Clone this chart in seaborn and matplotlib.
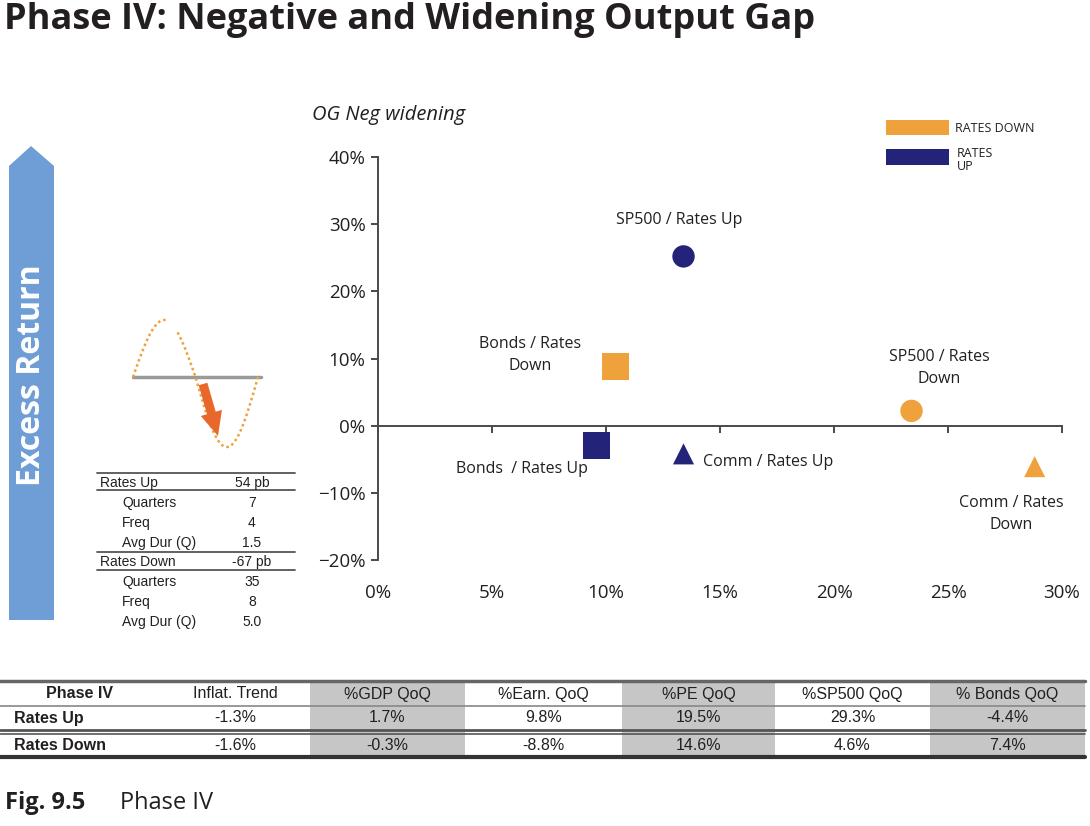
import numpy as np
import pandas as pd
import matplotlib
matplotlib.use('Agg')
import matplotlib.pyplot as plt
import seaborn as sns
from matplotlib.patches import Polygon, Rectangle, FancyArrow
from matplotlib.ticker import PercentFormatter

# scatter points (excess return vs frequency)
assets = ['SP500', 'Bonds', 'Comm', 'SP500', 'Bonds', 'Comm']
regimes = ['Rates Up', 'Rates Up', 'Rates Up', 'Rates Down', 'Rates Down', 'Rates Down']
x_vals = [13.4, 9.6, 13.4, 23.4, 10.4, 28.8]
y_vals = [25.2, -3.0, -4.2, 2.2, 8.8, -6.1]
point_labels = ['SP500 / Rates Up', 'Bonds  / Rates Up', 'Comm / Rates Up',
                'SP500 / Rates\nDown', 'Bonds / Rates\nDown', 'Comm / Rates\nDown']

x_ticks = [0, 5, 10, 15, 20, 25, 30]
y_ticks = [-20, -10, 0, 10, 20, 30, 40]

# side table
side_rows = ['Rates Up', 'Quarters', 'Freq', 'Avg Dur (Q)',
             'Rates Down', 'Quarters', 'Freq', 'Avg Dur (Q)']
side_vals = ['54 pb', '7', '4', '1.5', '-67 pb', '35', '8', '5.0']

# bottom table
table_header = ['Phase IV', 'Inflat. Trend', '%GDP QoQ', '%Earn. QoQ',
                '%PE QoQ', '%SP500 QoQ', '% Bonds QoQ']
rates_up_row = ['Rates Up', '-1.3%', '1.7%', '9.8%', '19.5%', '29.3%', '-4.4%']
rates_down_row = ['Rates Down', '-1.6%', '-0.3%', '-8.8%', '14.6%', '4.6%', '7.4%']

ORANGE = '#EFA23C'
NAVY = '#24237A'
BLUE = '#6F9DD6'
GRAY_CELL = '#C6C6C6'
TXT = '#231F20'

sns.set_theme(style='white')
plt.rcParams['font.family'] = ['Open Sans', 'DejaVu Sans']
plt.rcParams['axes.unicode_minus'] = True

df = pd.DataFrame({'asset': assets, 'regime': regimes, 'x': x_vals, 'y': y_vals,
                   'label': point_labels})

W, H = 1090, 826
fig = plt.figure(figsize=(W / 100, H / 100), dpi=100)
fig.patch.set_facecolor('white')

# pixel overlay for decorations
bg = fig.add_axes([0, 0, 1, 1], zorder=0)
bg.set_xlim(0, W)
bg.set_ylim(H, 0)
bg.axis('off')

bg.text(4, 20, 'Phase IV: Negative and Widening Output Gap', fontsize=26,
        fontweight='bold', color=TXT, va='center', ha='left')

# excess return arrow
bg.add_patch(Polygon([(9, 620), (9, 166), (31, 146), (54, 166), (54, 620)],
                     closed=True, facecolor=BLUE, edgecolor='none'))
bg.text(32, 375, 'Excess Return', rotation=90, color='white', fontsize=23,
        fontweight='bold', ha='center', va='center')

# little cycle sketch
t = np.linspace(0, 1, 200)
cyc = np.sin(2 * np.pi * t)
amp = np.where(cyc > 0, 57, 70)
cx = 133 + 125 * t
cy = 377 - amp * cyc
gap = (cx > 166) & (cx < 177)
cy_plot = np.where(gap, np.nan, cy)
bg.plot([133, 261], [377, 377], color='#9A9A9A', lw=2.5, zorder=1)
bg.plot(cx, cy_plot, color=ORANGE, lw=1.8, ls=(0, (1, 1.2)), zorder=1)
bg.add_patch(FancyArrow(203, 384, 15, 52, width=9, head_width=22, head_length=24,
                        length_includes_head=True, color='#E8672A', lw=0, zorder=3))

# side table
for yl in [473, 490, 552, 570]:
    bg.plot([97, 295], [yl, yl], color='#555555', lw=1.3)
side_y = [483, 503, 523, 543, 562, 582, 602, 622]
sfam = ['Liberation Sans Narrow', 'Liberation Sans', 'DejaVu Sans']
for i, (r, v) in enumerate(zip(side_rows, side_vals)):
    x0 = 100 if r.startswith('Rates') else 122
    bg.text(x0, side_y[i], r, fontsize=10, ha='left', va='center', color=TXT,
            family=sfam)
    bg.text(252, side_y[i], v, fontsize=10, ha='center', va='center', color=TXT,
            family=sfam)

# legend
bg.add_patch(Rectangle((886, 120), 63, 15, facecolor=ORANGE, edgecolor='none'))
bg.add_patch(Rectangle((886, 149), 63, 16, facecolor=NAVY, edgecolor='none'))
bg.text(955, 128, 'RATES DOWN', fontsize=9, ha='left', va='center', color=TXT)
bg.text(957, 160, 'RATES\nUP', fontsize=9, ha='left', va='center', color=TXT,
        linespacing=1.0)

bg.text(312, 115, 'OG Neg widening', fontsize=14.5, style='italic', color=TXT,
        ha='left', va='center')

# bottom table
col_edges = [0, 160, 310, 465, 622, 775, 930, 1085]
row_y = [694, 718, 745]
for c in [2, 4, 6]:
    bg.add_patch(Rectangle((col_edges[c], 682), col_edges[c + 1] - col_edges[c], 73,
                           facecolor=GRAY_CELL, edgecolor='none'))
tfam = ['Liberation Sans Narrow', 'Liberation Sans', 'DejaVu Sans']
for row, yy in zip([table_header, rates_up_row, rates_down_row], row_y):
    for c, txt in enumerate(row):
        cx_ = (col_edges[c] + col_edges[c + 1]) / 2
        if c == 0 and yy != row_y[0]:
            bg.text(14, yy, txt, fontsize=11.5, fontweight='bold', ha='left',
                    va='center', color=TXT, family=tfam)
        else:
            bg.text(cx_, yy, txt, fontsize=11.5, ha='center', va='center', color=TXT,
                    fontweight='bold' if c == 0 else 'normal', family=tfam)
bg.plot([0, 1085], [681, 681], color='#666666', lw=2.5)
bg.plot([0, 1085], [706, 706], color='#888888', lw=1.2)
bg.plot([0, 1085], [730, 730], color='#555555', lw=2.0)
bg.plot([0, 1085], [734, 734], color='#555555', lw=1.2)
bg.plot([0, 1085], [757, 757], color='#333333', lw=3.0)

bg.text(5, 803, 'Fig. 9.5', fontsize=17, fontweight='bold', color=TXT,
        ha='left', va='center')
bg.text(120, 803, 'Phase IV', fontsize=17, color=TXT, ha='left', va='center')

# main scatter
ax = fig.add_axes([378 / W, (H - 560) / H, (1062 - 378) / W, (560 - 157) / H], zorder=2)
ax.patch.set_alpha(0)
sns.scatterplot(data=df, x='x', y='y', hue='regime', style='asset', size='asset',
                markers={'SP500': 'o', 'Bonds': 's', 'Comm': '^'},
                sizes={'SP500': 260, 'Bonds': 380, 'Comm': 230},
                palette={'Rates Up': NAVY, 'Rates Down': ORANGE},
                edgecolor='none', legend=False, ax=ax, clip_on=False)

label_offsets = [(-3, 26), (-54, -17), (14, -6), (20, 31), (-61, 8), (-17, -34)]
label_ha = ['center', 'center', 'left', 'center', 'center', 'center']
for i, row in df.iterrows():
    ax.annotate(row['label'], (row['x'], row['y']), xytext=label_offsets[i],
                textcoords='offset points', ha=label_ha[i], va='center',
                fontsize=11.5, color=TXT, linespacing=1.5)

ax.set_xlim(0, 30)
ax.set_ylim(-20, 40)
ax.set_xlabel('')
ax.set_ylabel('')
ax.set_xticks(x_ticks)
ax.set_yticks(y_ticks)
ax.yaxis.set_major_formatter(PercentFormatter(decimals=0))
for s in ['top', 'right']:
    ax.spines[s].set_visible(False)
ax.spines['bottom'].set_position(('data', 0))
for s in ['left', 'bottom']:
    ax.spines[s].set_color('#4A4A4A')
    ax.spines[s].set_linewidth(1.4)
ax.tick_params(axis='x', labelbottom=False, bottom=True, direction='out',
               length=5, width=1.4, color='#4A4A4A')
ax.tick_params(axis='y', left=True, direction='out', length=5, width=1.4,
               color='#4A4A4A', labelsize=13.5, labelcolor=TXT, pad=4)

sec = ax.secondary_xaxis('bottom')
sec.set_xticks(x_ticks)
sec.xaxis.set_major_formatter(PercentFormatter(decimals=0))
sec.spines['bottom'].set_visible(False)
sec.tick_params(length=0, pad=17, labelsize=13.5, labelcolor=TXT)

fig.savefig('out.png', dpi=100, facecolor='white')
